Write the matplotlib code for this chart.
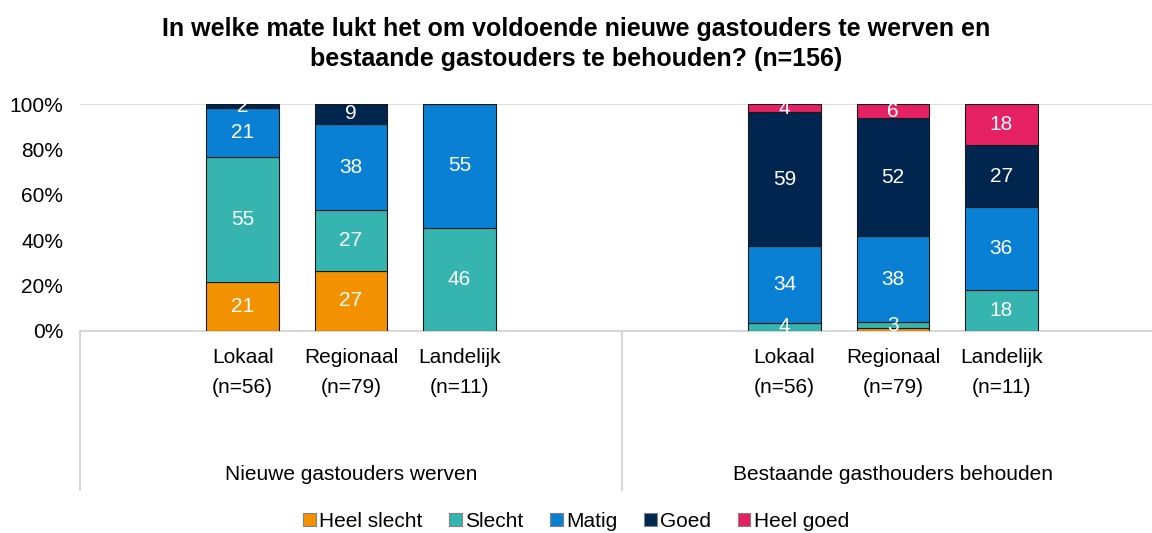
import numpy as np
import matplotlib.pyplot as plt

plt.rcParams["font.family"] = ["Liberation Sans", "DejaVu Sans"]

TITLE = ("In welke mate lukt het om voldoende nieuwe gastouders te werven en\n"
         "bestaande gastouders te behouden? (n=156)")

groups = ["Nieuwe gastouders werven", "Bestaande gasthouders behouden"]
bar_labels = ["Lokaal\n(n=56)", "Regionaal\n(n=79)", "Landelijk\n(n=11)"] * 2
series = ["Heel slecht", "Slecht", "Matig", "Goed", "Heel goed"]
colors = ["#F39200", "#36B5B0", "#0A80D5", "#00264F", "#E62163"]

# percentages per bar: Lokaal, Regionaal, Landelijk (werven), then the same (behouden)
heel_slecht = [21.4, 26.6, 0.0, 0.0, 1.3, 0.0]
slecht = [55.4, 26.6, 45.5, 3.6, 2.5, 18.2]
matig = [21.4, 38.0, 54.5, 33.9, 38.0, 36.4]
goed = [1.8, 8.9, 0.0, 58.9, 51.9, 27.3]
heel_goed = [0.0, 0.0, 0.0, 3.6, 6.3, 18.2]

values = np.array([heel_slecht, slecht, matig, goed, heel_goed]) / 100.0
x = np.array([0, 1, 2, 5, 6, 7])

fig = plt.figure(figsize=(11.52, 5.33), dpi=100)
ax = fig.add_axes([80 / 1152, 202 / 533, 1072 / 1152, 227 / 533])

bottom = np.zeros(len(x))
for name, vals, col in zip(series, values, colors):
    ax.bar(x, vals, 0.67, bottom=bottom, color=col, edgecolor="#1a1a1a",
           linewidth=0.8, label=name, zorder=3)
    for xi, b, v in zip(x, bottom, vals):
        pct = v * 100
        if pct >= 1.5:
            ax.text(xi, b + v / 2, f"{int(pct + 0.5)}", ha="center", va="center",
                    color="white", fontsize=15, zorder=4)
    bottom += vals

ax.set_xlim(-1.5, 8.39)
ax.set_ylim(0, 1)
ticks = np.linspace(0, 1, 6)
ax.set_yticks(ticks)
ax.set_yticklabels([f"{int(round(t * 100))}%" for t in ticks], fontsize=15)
ax.tick_params(axis="y", length=0, pad=12)
ax.set_xticks([])
for s in ["top", "right", "left"]:
    ax.spines[s].set_visible(False)
ax.spines["bottom"].set_color("#d0d0d0")
ax.spines["bottom"].set_linewidth(1.2)
ax.axhline(1.0, color="#d9d9d9", linewidth=1.2, zorder=1)

# category labels under each bar
for xi, lab in zip(x, bar_labels):
    ax.text(xi, -0.075, lab, ha="center", va="top", fontsize=15,
            linespacing=1.75, transform=ax.get_xaxis_transform())

# group labels and separators below the axis
for gx, g in zip([1, 6], groups):
    ax.text(gx, -0.63, g, ha="center", va="center", fontsize=15,
            transform=ax.get_xaxis_transform())
for sx in [-1.5, 3.5]:
    ax.plot([sx, sx], [0, -0.7], color="#d0d0d0", linewidth=1.2,
            transform=ax.get_xaxis_transform(), clip_on=False)

fig.text(0.5, 0.918, TITLE, ha="center", va="center", fontsize=18,
         fontweight="bold", linespacing=1.3)

handles, labels = ax.get_legend_handles_labels()
fig.legend(handles, labels, loc="center", bbox_to_anchor=(0.5, 0.022), ncol=5,
           frameon=False, fontsize=15, handlelength=0.6, handleheight=0.6,
           handletextpad=0.15, columnspacing=1.3)
for h in fig.legends[0].legend_handles:
    h.set_edgecolor("#808080")

fig.savefig("out.png", dpi=100)
